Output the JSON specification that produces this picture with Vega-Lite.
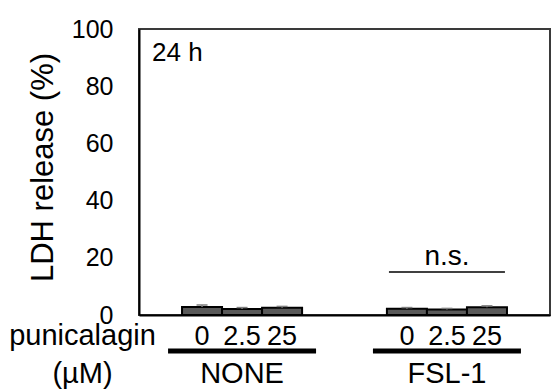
{
  "$schema": "https://vega.github.io/schema/vega-lite/v6.json",
  "width": 411,
  "height": 286,
  "autosize": "none",
  "padding": {"left": 139, "top": 29, "right": 3, "bottom": 74},
  "background": "white",
  "config": {
    "font": "Liberation Sans",
    "view": {"stroke": "#3a3a3a", "strokeWidth": 2}
  },
  "title": {
    "text": "24 h",
    "anchor": "start",
    "frame": "group",
    "orient": "top",
    "offset": -70,
    "dx": 13,
    "fontSize": 26,
    "fontWeight": "normal",
    "baseline": "alphabetic",
    "color": "black"
  },
  "datasets": {
    "ldh": [
      {"group": "NONE", "dose": "0", "value": 2.8, "upper": 3.5},
      {"group": "NONE", "dose": "2.5", "value": 2.1, "upper": 2.6},
      {"group": "NONE", "dose": "25", "value": 2.5, "upper": 3.0},
      {"group": "FSL-1", "dose": "0", "value": 2.2, "upper": 2.6},
      {"group": "FSL-1", "dose": "2.5", "value": 1.9, "upper": 2.3},
      {"group": "FSL-1", "dose": "25", "value": 2.7, "upper": 3.2}
    ],
    "groups": [
      {"group": "NONE"},
      {"group": "FSL-1"}
    ],
    "ns": [
      {"group": "FSL-1", "label": "n.s."}
    ]
  },
  "layer": [
    {
      "data": {"name": "ldh"},
      "mark": {"type": "bar", "fill": "#595959", "stroke": "black", "strokeWidth": 2, "opacity": 1},
      "encoding": {
        "x": {
          "field": "group",
          "type": "nominal",
          "sort": ["NONE", "FSL-1"],
          "scale": {"paddingInner": 0.414, "paddingOuter": 0.21},
          "axis": {
            "title": ["punicalagin", "(µM)"],
            "titleFontSize": 29,
            "titleFontWeight": "normal",
            "titleColor": "black",
            "titleX": -57,
            "titleY": 29,
            "titleAlign": "center",
            "titleBaseline": "alphabetic",
            "titleLineHeight": 38,
            "labelFontSize": 29,
            "labelColor": "black",
            "labelAngle": 0,
            "labelPadding": 67,
            "labelBaseline": "alphabetic",
            "ticks": false,
            "tickSize": 0,
            "domainColor": "black",
            "domainWidth": 2
          }
        },
        "xOffset": {
          "field": "dose",
          "type": "nominal",
          "sort": ["0", "2.5", "25"],
          "scale": {"paddingInner": 0, "paddingOuter": 0}
        },
        "y": {
          "field": "value",
          "type": "quantitative",
          "scale": {"domain": [0, 100], "nice": false},
          "axis": {
            "title": "LDH release (%)",
            "values": [0, 20, 40, 60, 80, 100],
            "grid": false,
            "ticks": false,
            "tickSize": 0,
            "labelPadding": 26,
            "labelFontSize": 25,
            "labelColor": "black",
            "domainColor": "black",
            "domainWidth": 2,
            "titleFontSize": 31,
            "titleFontWeight": "normal",
            "titleColor": "black",
            "titleAngle": -90,
            "titleX": -87,
            "titleY": 138,
            "titleAlign": "center",
            "titleBaseline": "alphabetic"
          }
        }
      }
    },
    {
      "data": {"name": "ldh"},
      "mark": {"type": "rule", "color": "#7f7f7f", "strokeWidth": 1.5, "opacity": 1},
      "encoding": {
        "x": {"field": "group", "type": "nominal", "sort": ["NONE", "FSL-1"]},
        "xOffset": {"field": "dose", "type": "nominal", "sort": ["0", "2.5", "25"]},
        "y": {"field": "value", "type": "quantitative"},
        "y2": {"field": "upper"}
      }
    },
    {
      "data": {"name": "ldh"},
      "mark": {"type": "tick", "color": "#7f7f7f", "size": 11, "thickness": 1.5, "orient": "horizontal", "opacity": 1},
      "encoding": {
        "x": {"field": "group", "type": "nominal", "sort": ["NONE", "FSL-1"]},
        "xOffset": {"field": "dose", "type": "nominal", "sort": ["0", "2.5", "25"]},
        "y": {"field": "upper", "type": "quantitative"}
      }
    },
    {
      "data": {"name": "ldh"},
      "mark": {"type": "text", "fontSize": 27, "color": "black", "align": "center", "baseline": "alphabetic"},
      "encoding": {
        "x": {"field": "group", "type": "nominal", "sort": ["NONE", "FSL-1"]},
        "xOffset": {"field": "dose", "type": "nominal", "sort": ["0", "2.5", "25"]},
        "y": {"datum": -10.5},
        "text": {"field": "dose"}
      }
    },
    {
      "data": {"name": "groups"},
      "mark": {"type": "tick", "color": "black", "size": 148, "thickness": 5, "orient": "horizontal", "opacity": 1},
      "encoding": {
        "x": {"field": "group", "type": "nominal", "sort": ["NONE", "FSL-1"]},
        "y": {"datum": -12.6}
      }
    },
    {
      "data": {"name": "ns"},
      "mark": {"type": "tick", "color": "black", "size": 116, "thickness": 1.5, "orient": "horizontal", "opacity": 1},
      "encoding": {
        "x": {"field": "group", "type": "nominal", "sort": ["NONE", "FSL-1"]},
        "y": {"datum": 15}
      }
    },
    {
      "data": {"name": "ns"},
      "mark": {"type": "text", "fontSize": 28, "color": "black", "align": "center", "baseline": "alphabetic"},
      "encoding": {
        "x": {"field": "group", "type": "nominal", "sort": ["NONE", "FSL-1"]},
        "y": {"datum": 17.5},
        "text": {"field": "label"}
      }
    }
  ]
}
